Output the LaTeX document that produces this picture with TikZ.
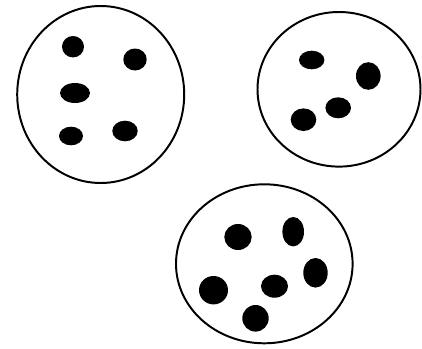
\documentclass[tikz,border=0pt]{standalone}
\usepackage{tikz}
\usetikzlibrary{positioning}
\tikzset{
  blob/.style={black, line width=1.4pt},
  spot/.style={fill=black}
}

\begin{document}
\begin{tikzpicture}[x=0.025cm, y=-0.025cm]
        \useasboundingbox (0,0) rectangle (422,349);
        % left group
        \draw[blob] (100.7,94.5) ellipse [x radius=83.5, y radius=88.5];
        \foreach \x/\y/\rx/\ry in {73/46.7/11/10.7, 135/59.5/11.7/11,
            75/93/15/10, 71/136/12/9.3, 125/131/12.7/10.3}
          \fill[spot] (\x,\y) ellipse [x radius=\rx, y radius=\ry];
        % right group
        \draw[blob] (339,89.3) ellipse [x radius=81.5, y radius=77.3];
        \foreach \x/\y/\rx/\ry in {311.7/60/12.7/9.3, 368.3/76/12.3/13.8,
            338.2/107.8/12.8/10.5, 303.5/119.7/12.8/11.3}
          \fill[spot] (\x,\y) ellipse [x radius=\rx, y radius=\ry];
        % bottom group
        \draw[blob] (264.3,263.8) ellipse [x radius=88.3, y radius=79.5];
        \foreach \x/\y/\rx/\ry in {238/237/13.7/13, 293.2/231.7/10.8/14.7,
            315.5/272.8/12.2/14.8, 274.5/286.2/13.5/11.5,
            213.5/290.2/14.5/14.2, 255.5/318.3/13.2/13.3}
          \fill[spot] (\x,\y) ellipse [x radius=\rx, y radius=\ry];
      \end{tikzpicture}
\end{document}
